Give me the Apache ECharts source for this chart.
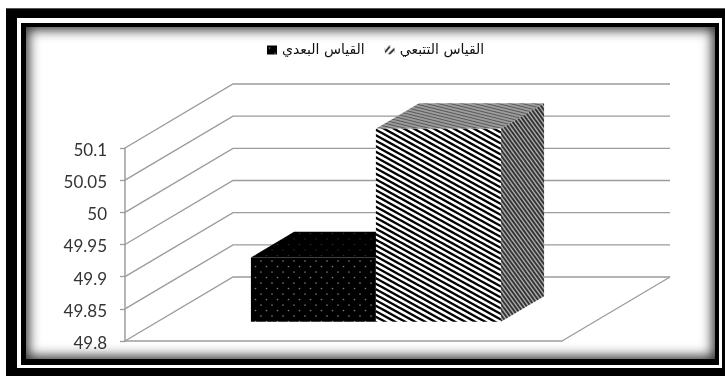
<!DOCTYPE html>
<html lang="ar">
<head>
<meta charset="utf-8">
<style>
  html, body { margin: 0; padding: 0; background: #fff; width: 725px; height: 376px; overflow: hidden; }
  .layer { position: absolute; box-sizing: border-box; }
  #band  { left: 6px;  top: 8px;  width: 719px; height: 368px; background: #000; border-top: 1px solid #555; }
  #gap   { left: 17px; top: 18px; width: 705px; height: 350px; background: #fff; }
  #edge  { left: 21px; top: 23px; width: 698px; height: 342px; background: #000; }
  #panel { left: 26px; top: 27px; width: 689px; height: 332px; background: #fff; box-shadow: inset 0 0 12px 3px rgba(0,0,0,0.8); }
  #chart { position: absolute; left: 0; top: 0; width: 725px; height: 376px; }
</style>
</head>
<body>
<div class="layer" id="band"></div>
<div class="layer" id="gap"></div>
<div class="layer" id="edge"></div>
<div class="layer" id="panel"></div>
<div id="chart"></div>
<script src="https://cdn.jsdelivr.net/npm/echarts@6/dist/echarts.min.js"></script>
<script>
// Chart data
const categories = ['القياس'];
const seriesNames = ['القياس البعدي', 'القياس التتبعي'];
const postTest = [49.9];
const followUp = [50.1];
const yTicks = [49.8, 49.85, 49.9, 49.95, 50, 50.05, 50.1];

// Pseudo-3D box projection, in pixels of depth for the whole floor
const DEPTH_X = 108;
const DEPTH_Y = -64;
const BAR_NEAR = 0.3;    // front face position along the floor depth
const BAR_FAR = 0.7;     // back face position along the floor depth
const BAR_SHARE = 0.286; // bar width as a share of the category band

function tile(w, h, draw) {
  const c = document.createElement('canvas');
  c.width = w; c.height = h;
  draw(c.getContext('2d'), w, h);
  return { image: c, repeat: 'repeat' };
}
function stripes(w, h, bg, fg, lw, count) {
  // Down-right stripes that wrap seamlessly over the tile
  return tile(w, h, (g) => {
    g.fillStyle = bg; g.fillRect(0, 0, w, h);
    g.strokeStyle = fg; g.lineWidth = lw;
    for (let i = -count; i <= count * 2; i++) {
      const off = i * h / count;
      g.beginPath(); g.moveTo(-w, off - h); g.lineTo(2 * w, off + 2 * h); g.stroke();
    }
  });
}
function dots(bg, fg, r) {
  return tile(11, 11, (g) => {
    g.fillStyle = bg; g.fillRect(0, 0, 11, 11);
    g.fillStyle = fg;
    [[2.5, 2.5], [8, 8]].forEach(([x, y]) => {
      g.beginPath(); g.arc(x, y, r, 0, Math.PI * 2); g.fill();
    });
  });
}

const fills = {
  post: { front: dots('#000', '#7a7a7a', 0.85), top: dots('#000', '#2a2a2a', 0.8), side: dots('#000', '#2a2a2a', 0.8) },
  follow: {
    front: stripes(20, 11, '#fff', '#000', 2.4, 2),
    top: stripes(12, 3, '#9c9c9c', '#5c5c5c', 1.1, 1),
    side: stripes(8, 11, '#ababab', '#333', 1.9, 2)
  }
};

// Small hatch swatch used by the legend key: two rising strokes on white
const followKey = tile(10, 9, (g) => {
  g.fillStyle = '#fff'; g.fillRect(0, 0, 10, 9);
  g.strokeStyle = '#000'; g.lineWidth = 1.6;
  [[0, 7, 5, 1], [4, 9, 10, 3]].forEach(([a, b, c, d]) => {
    g.beginPath(); g.moveTo(a, b); g.lineTo(c, d); g.stroke();
  });
});

// Back wall, side wall and floor lines for each tick value
function renderWall(params, api) {
  const value = api.value(0);
  const left = params.coordSys.x;
  const right = left + params.coordSys.width;
  const y = api.coord([0, value])[1];
  const shape = { points: [[left, y], [left + DEPTH_X, y + DEPTH_Y], [right + DEPTH_X, y + DEPTH_Y]] };
  const children = [{ type: 'polyline', shape, style: { stroke: '#9c9c9c', lineWidth: 1.4, fill: null } }];
  if (value === yTicks[0]) {
    children.push({
      type: 'line',
      shape: { x1: right, y1: y, x2: right + DEPTH_X, y2: y + DEPTH_Y },
      style: { stroke: '#9c9c9c', lineWidth: 1.4 }
    });
  }
  return { type: 'group', children };
}

// A box standing on the floor: front, top and right faces
function boxRenderer(seriesIndex, faces) {
  return function (params, api) {
    const band = api.size([1, 0])[0];
    const w = band * BAR_SHARE;
    const center = api.coord([api.value(0), yTicks[0]])[0];
    const x0 = center + (seriesIndex - 1) * w + DEPTH_X * BAR_NEAR;
    const x1 = x0 + w;
    const base = api.coord([api.value(0), yTicks[0]])[1] + DEPTH_Y * BAR_NEAR;
    const top = api.coord([api.value(0), api.value(1)])[1] + DEPTH_Y * BAR_NEAR;
    const dx = DEPTH_X * (BAR_FAR - BAR_NEAR);
    const dy = DEPTH_Y * (BAR_FAR - BAR_NEAR);
    return {
      type: 'group',
      children: [
        { type: 'polygon', shape: { points: [[x0, top], [x1, top], [x1 + dx, top + dy], [x0 + dx, top + dy]] }, style: { fill: faces.top } },
        { type: 'polygon', shape: { points: [[x1, top], [x1 + dx, top + dy], [x1 + dx, base + dy], [x1, base]] }, style: { fill: faces.side } },
        { type: 'polygon', shape: { points: [[x0, top], [x1, top], [x1, base], [x0, base]] }, style: { fill: faces.front } }
      ]
    };
  };
}

const chart = echarts.init(document.getElementById('chart'), null, { renderer: 'canvas' });
chart.setOption({
  backgroundColor: 'transparent',
  animation: false,
  legend: {
    data: [
      { name: seriesNames[0], itemStyle: { color: fills.post.front } },
      { name: seriesNames[1], itemStyle: { color: followKey } }
    ],
    left: 262,
    top: 38,
    icon: 'rect',
    itemWidth: 10,
    itemHeight: 9,
    itemGap: 20,
    textStyle: { fontFamily: 'DejaVu Sans', fontSize: 14, color: '#111' }
  },
  grid: { left: 125, top: 148, width: 437, height: 193, containLabel: false },
  xAxis: {
    type: 'category',
    data: categories,
    axisLabel: { show: false },
    axisTick: { show: false },
    axisLine: { lineStyle: { color: '#9c9c9c', width: 1.5 } }
  },
  yAxis: {
    type: 'value',
    min: 49.8,
    max: 50.1,
    interval: 0.05,
    axisLine: { show: true, lineStyle: { color: '#9c9c9c', width: 1.5 } },
    axisTick: { show: true, length: 5, lineStyle: { color: '#9c9c9c', width: 1.3 } },
    splitLine: { show: false },
    axisLabel: { margin: 18, fontFamily: 'Lato', fontSize: 17, color: '#333', verticalAlign: 'top', padding: [-6, 0, 0, 0] }
  },
  series: [
    {
      type: 'custom',
      silent: true,
      renderItem: renderWall,
      data: yTicks.map((v) => [v]),
      encode: { y: 0 },
      z: 1
    },
    {
      name: seriesNames[0],
      type: 'custom',
      renderItem: boxRenderer(0, fills.post),
      data: postTest.map((v, i) => [i, v]),
      encode: { x: 0, y: 1 },
      z: 2
    },
    {
      name: seriesNames[1],
      type: 'custom',
      renderItem: boxRenderer(1, fills.follow),
      data: followUp.map((v, i) => [i, v]),
      encode: { x: 0, y: 1 },
      z: 3
    }
  ]
});
</script>
</body>
</html>
